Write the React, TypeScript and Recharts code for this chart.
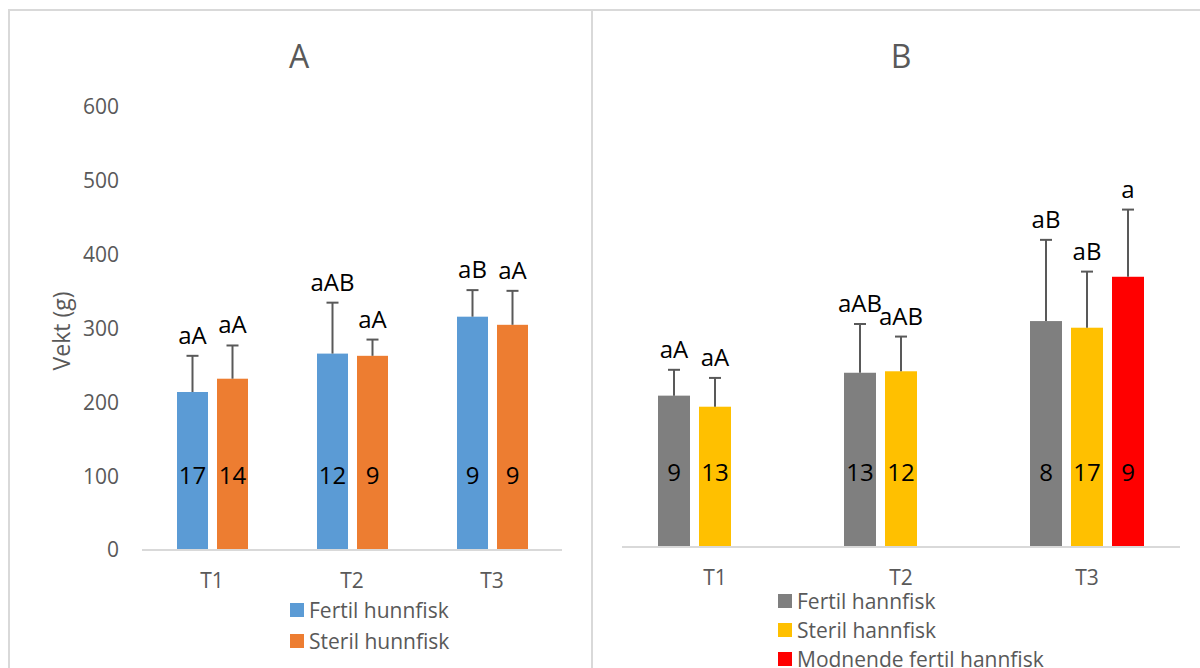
import { Bar, BarChart, XAxis, YAxis } from "recharts";

const periods = ["T1", "T2", "T3"];
const weightTicks = [0, 100, 200, 300, 400, 500, 600];

// A: hunnfisk
const fertilHunnMean = [214, 266, 316];
const fertilHunnSd = [49, 69, 36];
const fertilHunnN = [17, 12, 9];
const fertilHunnSig = ["aA", "aAB", "aB"];

const sterilHunnMean = [232, 263, 305];
const sterilHunnSd = [45, 22, 46];
const sterilHunnN = [14, 9, 9];
const sterilHunnSig = ["aA", "aA", "aA"];

// B: hannfisk
const fertilHannMean = [205, 236, 306];
const fertilHannSd = [35, 66, 110];
const fertilHannN = [9, 13, 8];
const fertilHannSig = ["aA", "aAB", "aB"];

const sterilHannMean = [190, 238, 297];
const sterilHannSd = [39, 47, 76];
const sterilHannN = [13, 12, 17];
const sterilHannSig = ["aA", "aAB", "aB"];

const modnendeMean = [null, null, 366];
const modnendeSd = [null, null, 91];
const modnendeN = [null, null, 9];
const modnendeSig = [null, null, "a"];

const FONT = "'Open Sans', sans-serif";
const GREY_TEXT = "#595959";
const AXIS_LINE = "#D9D9D9";

type Series = {
  key: string;
  name: string;
  color: string;
  mean: (number | null)[];
  sd: (number | null)[];
  n: (number | null)[];
  sig: (string | null)[];
};

const seriesA: Series[] = [
  { key: "fertilHunn", name: "Fertil hunnfisk", color: "#5B9BD5", mean: fertilHunnMean, sd: fertilHunnSd, n: fertilHunnN, sig: fertilHunnSig },
  { key: "sterilHunn", name: "Steril hunnfisk", color: "#ED7D31", mean: sterilHunnMean, sd: sterilHunnSd, n: sterilHunnN, sig: sterilHunnSig },
];

const seriesB: Series[] = [
  { key: "fertilHann", name: "Fertil hannfisk", color: "#7F7F7F", mean: fertilHannMean, sd: fertilHannSd, n: fertilHannN, sig: fertilHannSig },
  { key: "sterilHann", name: "Steril hannfisk", color: "#FFC000", mean: sterilHannMean, sd: sterilHannSd, n: sterilHannN, sig: sterilHannSig },
  { key: "modnende", name: "Modnende fertil hannfisk", color: "#FF0000", mean: modnendeMean, sd: modnendeSd, n: modnendeN, sig: modnendeSig },
];

function buildRows(series: Series[]) {
  return periods.map((period, i) => {
    const row: Record<string, string | number | null> = { period };
    series.forEach((s) => {
      row[s.key] = s.mean[i];
      row[s.key + "Sd"] = s.sd[i];
      row[s.key + "N"] = s.n[i];
      row[s.key + "Sig"] = s.sig[i];
    });
    return row;
  });
}

// bar + upper error bar + significance letters + sample size
function barShape(key: string) {
  return (props: any) => {
    const { x, y, width, height, fill, payload } = props;
    const mean = payload?.[key];
    if (mean == null || !height) return <g />;
    const sd = payload[key + "Sd"] ?? 0;
    const cx = x + width / 2;
    const errY = y - (sd * height) / mean;
    const base = y + height;
    return (
      <g>
        <rect x={x} y={y} width={width} height={height} fill={fill} />
        <line x1={cx} x2={cx} y1={y} y2={errY} stroke={GREY_TEXT} strokeWidth={2} />
        <line x1={cx - 6} x2={cx + 6} y1={errY} y2={errY} stroke={GREY_TEXT} strokeWidth={2} />
        <text x={cx} y={errY - 12} textAnchor="middle" fontFamily={FONT} fontSize={24} fill="#000">
          {payload[key + "Sig"]}
        </text>
        <text x={cx} y={base - 76} textAnchor="middle" dominantBaseline="central" fontFamily={FONT} fontSize={24} fill="#000">
          {payload[key + "N"]}
        </text>
      </g>
    );
  };
}

function LegendList({ series, left, top, step }: { series: Series[]; left: number; top: number; step: number }) {
  return (
    <div style={{ position: "absolute", left, top, fontFamily: FONT, fontSize: 21, color: GREY_TEXT }}>
      {series.map((s, i) => (
        <div
          key={s.key}
          style={{ position: "absolute", top: i * step, left: 0, display: "flex", alignItems: "center", height: 28, whiteSpace: "nowrap" }}
        >
          <span style={{ width: 14, height: 14, background: s.color, marginRight: 5, display: "inline-block" }} />
          <span>{s.name}</span>
        </div>
      ))}
    </div>
  );
}

const tickStyle = { fontSize: 21, fill: GREY_TEXT, fontFamily: FONT };

export default function App() {
  const rowsA = buildRows(seriesA);
  const rowsB = buildRows(seriesB);
  return (
    <div style={{ position: "absolute", left: 0, top: 0, width: 1200, height: 668, overflow: "hidden", background: "#fff", fontFamily: FONT }}>
      <div style={{ position: "absolute", left: 8, top: 9, width: 585, height: 700, border: `2px solid ${AXIS_LINE}`, boxSizing: "border-box" }} />
      <div style={{ position: "absolute", left: 591, top: 9, width: 700, height: 700, border: `2px solid ${AXIS_LINE}`, boxSizing: "border-box" }} />

      <div style={{ position: "absolute", left: 200, top: 37, width: 198, textAlign: "center", fontSize: 32, lineHeight: "38px", color: GREY_TEXT }}>A</div>
      <div style={{ position: "absolute", left: 802, top: 37, width: 198, textAlign: "center", fontSize: 32, lineHeight: "38px", color: GREY_TEXT }}>B</div>
      <div
        style={{
          position: "absolute", left: 61, top: 331, transform: "translate(-50%, -50%) rotate(-90deg)",
          fontSize: 23, color: GREY_TEXT, whiteSpace: "nowrap",
        }}
      >
        Vekt (g)
      </div>

      <div style={{ position: "absolute", left: 0, top: 0 }}>
        <BarChart width={600} height={668} data={rowsA} margin={{ top: 107, right: 38, bottom: 78, left: 62 }} barSize={31} barGap={9}>
          <XAxis dataKey="period" axisLine={{ stroke: AXIS_LINE, strokeWidth: 2 }} tickLine={false} tickSize={0} tickMargin={23} height={40} tick={tickStyle} />
          <YAxis domain={[0, 600]} ticks={weightTicks} width={80} axisLine={false} tickLine={false} tickSize={0} tickMargin={23} tick={tickStyle} />
          {seriesA.map((s) => (
            <Bar key={s.key} dataKey={s.key} name={s.name} fill={s.color} shape={barShape(s.key)} isAnimationActive={false} />
          ))}
        </BarChart>
      </div>

      <div style={{ position: "absolute", left: 592, top: 0 }}>
        <BarChart width={608} height={668} data={rowsB} margin={{ top: 104, right: 20, bottom: 81, left: 30 }} barSize={32} barGap={9}>
          <XAxis dataKey="period" axisLine={{ stroke: AXIS_LINE, strokeWidth: 2 }} tickLine={false} tickSize={0} tickMargin={23} height={40} tick={tickStyle} />
          <YAxis domain={[0, 600]} ticks={weightTicks} hide />
          {seriesB.map((s) => (
            <Bar key={s.key} dataKey={s.key} name={s.name} fill={s.color} shape={barShape(s.key)} isAnimationActive={false} />
          ))}
        </BarChart>
      </div>

      <LegendList series={seriesA} left={290} top={596} step={31} />
      <LegendList series={seriesB} left={778} top={587} step={29} />
    </div>
  );
}
